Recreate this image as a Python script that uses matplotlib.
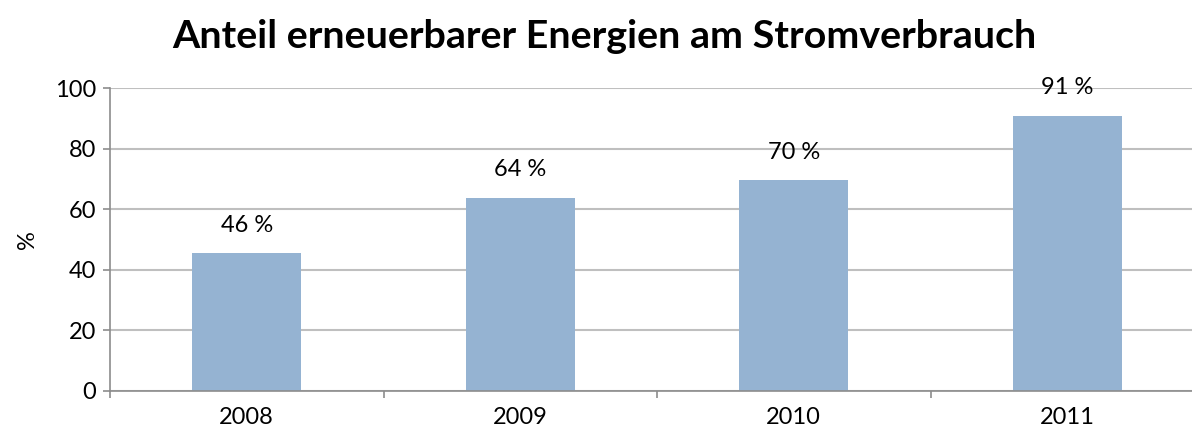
import matplotlib
matplotlib.use("Agg")
import matplotlib.pyplot as plt

# data
years = ["2008", "2009", "2010", "2011"]
share = [45.6, 63.8, 69.7, 91.0]
labels = ["46 %", "64 %", "70 %", "91 %"]
yticks = [0, 20, 40, 60, 80, 100]

bar_color = "#95B3D2"
grid_color = "#BFBFBF"
spine_color = "#8C8C8C"

plt.rcParams['font.family'] = ['Lato', 'DejaVu Sans']
fs = 17

fig = plt.figure(figsize=(11.92, 4.30), dpi=100)
# axes runs slightly past the right edge, like the source
ax = fig.add_axes([110 / 1192, 39.3 / 430, 1094 / 1192, 302.4 / 430])

x = list(range(len(years)))
ax.bar(x, share, width=0.4, color=bar_color, zorder=3)
for xi, v, lab in zip(x, share, labels):
    ax.annotate(lab, (xi, v), xytext=(0, 20), textcoords="offset points",
                ha="center", va="center", fontsize=fs)

ax.set_xlim(-0.5, len(years) - 0.5)
ax.set_ylim(0, 100)
ax.set_yticks(yticks)
ax.set_yticklabels([str(t) for t in yticks], fontsize=fs)
ax.set_xticks(x)
ax.set_xticklabels(years, fontsize=fs)
# category boundary ticks on x axis
ax.set_xticks([i - 0.5 for i in range(len(years) + 1)], minor=True)
ax.tick_params(axis="x", which="major", length=0, pad=12)
ax.tick_params(axis="x", which="minor", length=5, color=spine_color, width=1.2)
ax.tick_params(axis="y", length=5, color=spine_color, width=1.2, pad=5)

ax.yaxis.grid(True, color=grid_color, linewidth=1.5, zorder=0)
for side in ["top", "right"]:
    ax.spines[side].set_visible(False)
for side in ["left", "bottom"]:
    ax.spines[side].set_color(spine_color)
    ax.spines[side].set_linewidth(1.2)
    ax.spines[side].set_zorder(4)

ax.set_ylabel("%", fontsize=fs, labelpad=12)
fig.text(0.507, 0.915, "Anteil erneuerbarer Energien am Stromverbrauch",
         ha="center", va="center", fontsize=28.4, fontweight="bold")

fig.savefig("out.png", dpi=100)
